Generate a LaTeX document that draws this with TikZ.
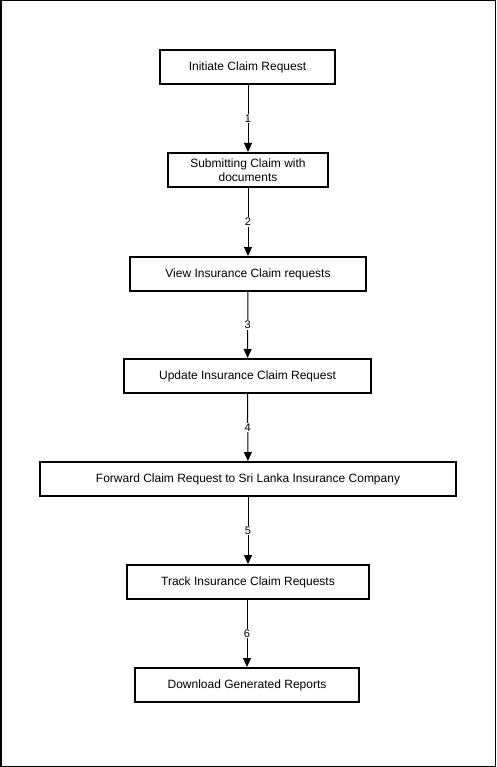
\documentclass[tikz,border=0pt]{standalone}
\usepackage{fontspec}
\setmainfont{Liberation Sans}
\usetikzlibrary{arrows.meta}
\begin{document}
\begin{tikzpicture}[x=1pt,y=-1pt,
  stepbox/.style={draw=black,line width=2pt,fill=white,rectangle,inner sep=0pt,align=center,font=\fontsize{12}{14}\selectfont},
  flow/.style={draw=black,line width=1pt,-{Triangle[length=9pt,width=8pt]}},
  lbl/.style={fill=white,inner sep=1pt,font=\fontsize{11}{13}\selectfont}]
\draw[line width=1.5pt,fill=white] (0.75,0.75) rectangle (495.25,766.25);
\useasboundingbox (0,0) rectangle (496,767);
\node[stepbox,minimum width=175pt,minimum height=34pt] (a) at (247.5,67) {Initiate Claim Request};
\node[stepbox,minimum width=160pt,minimum height=34pt] (b) at (248,170) {Submitting Claim with\\documents};
\node[stepbox,minimum width=236pt,minimum height=34pt] (c) at (248,274) {View Insurance Claim requests};
\node[stepbox,minimum width=247pt,minimum height=34pt] (d) at (247.5,376) {Update Insurance Claim Request};
\node[stepbox,minimum width=416pt,minimum height=34pt] (e) at (248,479) {Forward Claim Request to Sri Lanka Insurance Company};
\node[stepbox,minimum width=242pt,minimum height=34pt] (f) at (248,582) {Track Insurance Claim Requests};
\node[stepbox,minimum width=224pt,minimum height=34pt] (g) at (247,685) {Download Generated Reports};
\draw[flow] (a.south -| b.north) -- node[lbl] {1} (b.north);
\draw[flow] (b) -- node[lbl] {2} (c);
\draw[flow] (c) -- node[lbl] {3} (d);
\draw[flow] (d) -- node[lbl] {4} (e);
\draw[flow] (e) -- node[lbl] {5} (f);
\draw[flow] (f.south -| g.north) -- node[lbl] {6} (g.north);
\end{tikzpicture}
\end{document}
